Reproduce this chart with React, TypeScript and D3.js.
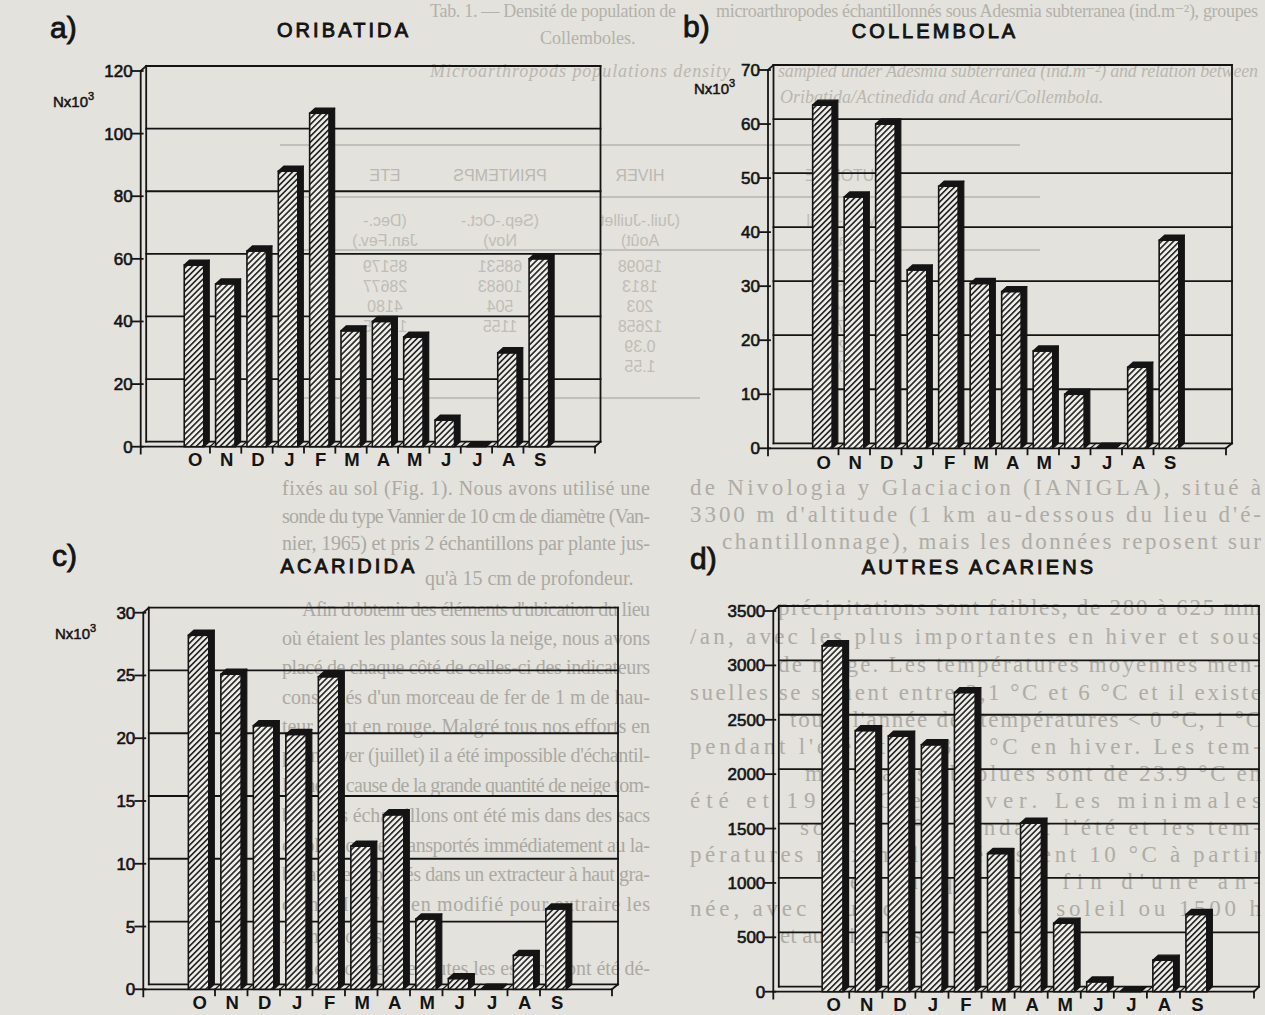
import React from 'react';
import * as d3 from 'd3';

const months = ["O", "N", "D", "J", "F", "M", "A", "M", "J", "J", "A", "S"];

const oribatidaValues = [58, 52, 62.5, 88, 106.5, 37, 40, 35, 8.5, 0, 30, 60];
const collembolaValues = [63.5, 46.5, 60, 33, 48.5, 30.5, 29, 18, 10, 0, 15, 38.5];
const acarididaValues = [28.2, 25.1, 21, 20.3, 24.9, 11.4, 13.9, 5.6, 0.85, 0, 2.7, 6.4];
const autresValues = [3180, 2400, 2350, 2270, 2750, 1270, 1550, 630, 90, 0, 290, 710];

const oribatidaTicks = [0, 20, 40, 60, 80, 100, 120];
const collembolaTicks = [0, 10, 20, 30, 40, 50, 60, 70];
const acarididaTicks = [0, 5, 10, 15, 20, 25, 30];
const autresTicks = [0, 500, 1000, 1500, 2000, 2500, 3000, 3500];

// faint page text showing through the scan: [text, x, y, justify-to-x (0 = none)]
const leftColumnText: [string, number, number, number][] = [
  ["fixés au sol (Fig. 1). Nous avons utilisé une", 282, 488, 650],
  ["sonde du type Vannier de 10 cm de diamètre (Van-", 282, 516, 650],
  ["nier, 1965) et pris 2 échantillons par plante jus-", 282, 543, 650],
  ["qu'à 15 cm de profondeur.", 425, 578, 0],
  ["Afin d'obtenir des éléments d'ubication du lieu", 302, 609, 650],
  ["où étaient les plantes sous la neige, nous avons", 282, 638, 650],
  ["placé de chaque côté de celles-ci des indicateurs", 282, 667, 650],
  ["constitués d'un morceau de fer de 1 m de hau-", 282, 697, 650],
  ["teur peint en rouge. Malgré tous nos efforts en", 282, 726, 650],
  ["plein hiver (juillet) il a été impossible d'échantil-", 282, 755, 650],
  ["lonner à cause de la grande quantité de neige tom-", 282, 785, 650],
  ["bée. Les échantillons ont été mis dans des sacs", 282, 815, 650],
  ["en plastique et transportés immédiatement au la-", 282, 845, 650],
  ["boratoire et placés dans un extracteur à haut gra-", 282, 874, 650],
  ["dient MacFadyen modifié pour extraire les", 282, 904, 650],
  ["Arthropodes.", 282, 936, 0],
  ["Les adultes de toutes les espèces ont été dé-", 302, 968, 650],
];

const rightColumnText: [string, number, number, number][] = [
  ["de Nivologia y Glaciacion (IANIGLA), situé à", 690, 487, 1261],
  ["3300 m d'altitude (1 km au-dessous du lieu d'é-", 690, 514, 1261],
  ["chantillonnage), mais les données reposent sur", 722, 541, 1261],
  ["précipitations sont faibles, de 280 à 625 mm", 778, 607, 1261],
  ["/an, avec les plus importantes en hiver et sous", 690, 636, 1261],
  ["de neige. Les températures moyennes men-", 778, 664, 1261],
  ["suelles se situent entre 2,1 °C et 6 °C et il existe", 690, 692, 1261],
  ["toute l'année des températures < 0 °C, 1 °C", 790, 719, 1261],
  ["pendant l'été et − 18.6 °C en hiver. Les tem-", 690, 746, 1261],
  ["maximales absolues sont de 23.9 °C en", 805, 773, 1261],
  ["été et 19.5 °C en hiver. Les minimales", 690, 800, 1261],
  ["sont > 0 °C pendant l'été et les tem-", 800, 827, 1261],
  ["pératures maximales dépassent 10 °C à partir", 690, 854, 1261],
  ["et jusqu'à la fin d'une an-", 850, 881, 1261],
  ["née, avec plus de 1400 h de soleil ou 1500 h", 690, 908, 1261],
  ["et au printemps.", 780, 935, 0],
];

const captionText: [string, number, number, number, boolean][] = [
  ["Tab. 1. — Densité de population de", 430, 17, 676, false],
  ["microarthropodes échantillonnés sous Adesmia subterranea (ind.m⁻²), groupes", 716, 17, 1258, false],
  ["Collemboles.", 540, 44, 0, false],
  ["Microarthropods populations density", 430, 77, 730, true],
  ["sampled under Adesmia subterranea (ind.m⁻²) and relation between", 778, 77, 1258, true],
  ["Oribatida/Actinedida and Acari/Collembola.", 780, 103, 0, true],
];

const tableHeader = ["ETE", "PRINTEMPS", "HIVER", "AUTOMNE"];
const tableSub1 = ["(Dec.-", "(Sep.-Oct.-", "(Juil.-Juillet", "(Mars-Avril"];
const tableSub2 = ["Jan.Fev.)", "Nov)", "Août)", "Mai)"];
const tableRows = [
  ["85179", "68531", "15098", "17154"],
  ["28677", "10683", "1813", "2363"],
  ["4180", "504", "203", "154"],
  ["12575", "1155", "12658", "1572"],
  ["", "", "0.39", "0.29"],
  ["", "", "1.55", "1.02"],
];

const INK = "#141414";
const PAGE = "#e4e2dc";
const FACE = "#eeede8";
const SANS = "'Liberation Sans', Arial, Helvetica, sans-serif";
const SERIF = "'Liberation Serif', 'DejaVu Serif', serif";

type PanelCfg = {
  id: string;
  letter: string;
  title: string;
  values: number[];
  ticks: number[];
  axisX: number;
  base: number;
  yTop: number;
  bandStart: number;
  bw: number;
  floorEnd: number;
  wallRight: number;
  titleX: number;
  titleY: number;
  letterX: number;
  letterY: number;
  catY: number;
  unit?: { x: number; y: number };
};

const panels: PanelCfg[] = [
  {
    id: "a", letter: "a)", title: "ORIBATIDA", values: oribatidaValues, ticks: oribatidaTicks,
    axisX: 140.7, base: 446.7, yTop: 71, bandStart: 178.6, bw: 31.35, floorEnd: 595, wallRight: 600.5,
    titleX: 344, titleY: 37, letterX: 50, letterY: 38, catY: 466, unit: { x: 53, y: 107 },
  },
  {
    id: "b", letter: "b)", title: "COLLEMBOLA", values: collembolaValues, ticks: collembolaTicks,
    axisX: 768, base: 448.3, yTop: 70, bandStart: 807, bw: 31.5, floorEnd: 1226, wallRight: 1232,
    titleX: 935, titleY: 38, letterX: 683, letterY: 37, catY: 469, unit: { x: 694, y: 94 },
  },
  {
    id: "c", letter: "c)", title: "ACARIDIDA", values: acarididaValues, ticks: acarididaTicks,
    axisX: 143.3, base: 989.3, yTop: 612.7, bandStart: 182.5, bw: 32.5, floorEnd: 612, wallRight: 618,
    titleX: 349, titleY: 573, letterX: 52, letterY: 566, catY: 1009, unit: { x: 55, y: 639 },
  },
  {
    id: "d", letter: "d)", title: "AUTRES ACARIENS", values: autresValues, ticks: autresTicks,
    axisX: 773.3, base: 991.7, yTop: 611, bandStart: 816.2, bw: 33.07, floorEnd: 1254, wallRight: 1259,
    titleX: 979, titleY: 574, letterX: 690, letterY: 569, catY: 1011,
  },
];

const DX = 5.5;
const DY = 5;

function Panel({ cfg }: { cfg: PanelCfg }) {
  const vmax = cfg.ticks[cfg.ticks.length - 1];
  const y = d3.scaleLinear().domain([0, vmax]).range([cfg.base, cfg.yTop]);
  const x = d3
    .scaleBand<number>()
    .domain(months.map((_, i) => i))
    .range([cfg.bandStart, cfg.bandStart + cfg.bw * months.length])
    .paddingInner(0)
    .paddingOuter(0);
  const bw = x.bandwidth();
  const wallL = cfg.axisX + DX;
  const wallTop = cfg.yTop - DY;
  const backBase = cfg.base - DY;

  return (
    <g>
      <text x={cfg.letterX} y={cfg.letterY} fontFamily={SANS} fontSize={30} fill={INK} stroke={INK} strokeWidth={0.9}>
        {cfg.letter}
      </text>
      <text x={cfg.titleX} y={cfg.titleY} textAnchor="middle" fontFamily={SANS} fontSize={20}
        letterSpacing={3.1} fill={INK} stroke={INK} strokeWidth={0.9}>
        {cfg.title}
      </text>
      {cfg.unit && (
        <text x={cfg.unit.x} y={cfg.unit.y} fontFamily={SANS} fontSize={15} fill={INK} stroke={INK} strokeWidth={0.5}>
          Nx10<tspan dy={-7} fontSize={11}>3</tspan>
        </text>
      )}

      <g stroke={INK} strokeWidth={1.8} fill="none" strokeLinecap="square">
        <line x1={wallL} y1={wallTop} x2={cfg.wallRight} y2={wallTop} />
        <line x1={cfg.wallRight} y1={wallTop} x2={cfg.wallRight} y2={backBase} />
        <line x1={wallL} y1={wallTop} x2={wallL} y2={backBase} />
        <line x1={cfg.axisX} y1={cfg.yTop} x2={wallL} y2={wallTop} />
        {cfg.ticks.slice(1, -1).map((t) => (
          <line key={t} x1={wallL} y1={y(t) - DY} x2={cfg.wallRight} y2={y(t) - DY} />
        ))}
        <line x1={wallL} y1={backBase} x2={cfg.wallRight} y2={backBase} />
        <line x1={cfg.axisX} y1={cfg.base} x2={cfg.floorEnd} y2={cfg.base} />
        <line x1={cfg.floorEnd} y1={cfg.base} x2={cfg.wallRight} y2={backBase} />
        <line x1={cfg.floorEnd} y1={cfg.base} x2={cfg.floorEnd} y2={cfg.base + 6} />
        <line x1={cfg.axisX} y1={cfg.yTop} x2={cfg.axisX} y2={cfg.base + 7} />
        {cfg.ticks.map((t) => (
          <line key={"t" + t} x1={cfg.axisX - 8} y1={y(t)} x2={cfg.axisX + 2} y2={y(t)} />
        ))}
        {months.slice(1).map((_, k) => {
          const bx = x(k + 1) as number;
          return (
            <g key={"c" + k}>
              <line x1={bx} y1={cfg.base} x2={bx} y2={cfg.base + 6} />
              <line x1={bx} y1={cfg.base} x2={bx + DX} y2={backBase} strokeWidth={1.2} />
            </g>
          );
        })}
      </g>

      {cfg.ticks.map((t) => (
        <text key={"l" + t} x={cfg.axisX - 8} y={y(t) + 6} textAnchor="end" fontFamily={SANS} fontSize={17}
          fill={INK} stroke={INK} strokeWidth={0.6}>
          {t}
        </text>
      ))}

      {cfg.values.map((v, i) => {
        const b0 = x(i) as number;
        const x0 = b0 + 0.18 * bw;
        const x1 = b0 + bw - DX - 0.7;
        const yt = y(v);
        const cap = `M${x0},${yt} L${x0 + DX},${yt - DY} L${x1 + DX},${yt - DY} L${x1},${yt} Z`;
        const side = `M${x1},${yt} L${x1 + DX},${yt - DY} L${x1 + DX},${cfg.base - DY} L${x1},${cfg.base} Z`;
        return (
          <g key={"b" + i}>
            {v > 0 && (
              <rect x={x0} y={yt} width={x1 - x0} height={cfg.base - yt} fill="url(#hatch)"
                stroke={INK} strokeWidth={1.6} />
            )}
            <path d={side} fill={INK} stroke={INK} strokeWidth={1.2} strokeLinejoin="round" />
            <path d={cap} fill={INK} stroke={INK} strokeWidth={1.4} strokeLinejoin="round" />
          </g>
        );
      })}

      {months.map((m, i) => (
        <text key={"m" + i} x={(x(i) as number) + bw / 2 + 1} y={cfg.catY} textAnchor="middle"
          fontFamily={SANS} fontSize={18.5} fontWeight="bold" fill={INK}>
          {m}
        </text>
      ))}
    </g>
  );
}

function Column({ items, size, color }: {
  items: [string, number, number, number][]; size: number; color: string;
}) {
  return (
    <g fontFamily={SERIF} fontSize={size} fill={color}>
      {items.map(([t, x0, yc, x1], i) => (
        <text key={i} x={x0} y={yc + size * 0.33}
          {...(x1 > 0 ? { textLength: x1 - x0, lengthAdjust: "spacing" } : {})}>
          {t}
        </text>
      ))}
    </g>
  );
}

function Background() {
  const tableCols = [385, 500, 640, 845];
  const mirror = (cx: number, cy: number, s: string, key: string, size: number, fill: string) => (
    <text key={key} transform={`translate(${cx},${cy}) scale(-1,1)`} textAnchor="middle"
      fontFamily={SANS} fontSize={size} fill={fill}>
      {s}
    </text>
  );
  return (
    <g>
      <g fontFamily={SERIF} fontSize={18}>
        {captionText.map(([t, x0, yb, x1, it], i) => (
          <text key={"cap" + i} x={x0} y={yb} fill={it ? "#b9b7b1" : "#b3b1ab"} fontStyle={it ? "italic" : "normal"}
            {...(x1 > 0 ? { textLength: x1 - x0, lengthAdjust: "spacing" } : {})}>
            {t}
          </text>
        ))}
      </g>
      <g stroke="#c2c0ba" strokeWidth={2}>
        <line x1={280} y1={145} x2={1020} y2={145} />
        <line x1={300} y1={197} x2={1040} y2={197} />
        <line x1={300} y1={250} x2={1040} y2={250} />
        <line x1={300} y1={398} x2={700} y2={398} />
      </g>
      {tableHeader.map((h, j) => mirror(tableCols[j], 181, h, "h" + j, 16, "#bab8b2"))}
      {tableSub1.map((h, j) => mirror(tableCols[j], 226, h, "s1" + j, 16, "#bfbdb7"))}
      {tableSub2.map((h, j) => mirror(tableCols[j], 246, h, "s2" + j, 16, "#bfbdb7"))}
      {tableRows.map((row, r) =>
        row.map((c, j) => (c ? mirror(tableCols[j], 272 + r * 20, c, `r${r}-${j}`, 16, "#bfbdb7") : null))
      )}
      <Column items={leftColumnText} size={20} color="#aba9a3" />
      <Column items={rightColumnText} size={23} color="#aeaca6" />
    </g>
  );
}

export default function App() {
  return (
    <svg width={1265} height={1015} viewBox="0 0 1265 1015"
      style={{ position: "absolute", left: 0, top: 0, display: "block" }}>
      <defs>
        <pattern id="hatch" patternUnits="userSpaceOnUse" width={4.2} height={4.2} patternTransform="rotate(45)">
          <rect width={4.2} height={4.2} fill={FACE} />
          <line x1={0.8} y1={0} x2={0.8} y2={4.2} stroke={INK} strokeWidth={1.5} />
        </pattern>
      </defs>
      <rect x={0} y={0} width={1265} height={1015} fill={PAGE} />
      <Background />
      {panels.map((p) => (
        <Panel key={p.id} cfg={p} />
      ))}
    </svg>
  );
}
